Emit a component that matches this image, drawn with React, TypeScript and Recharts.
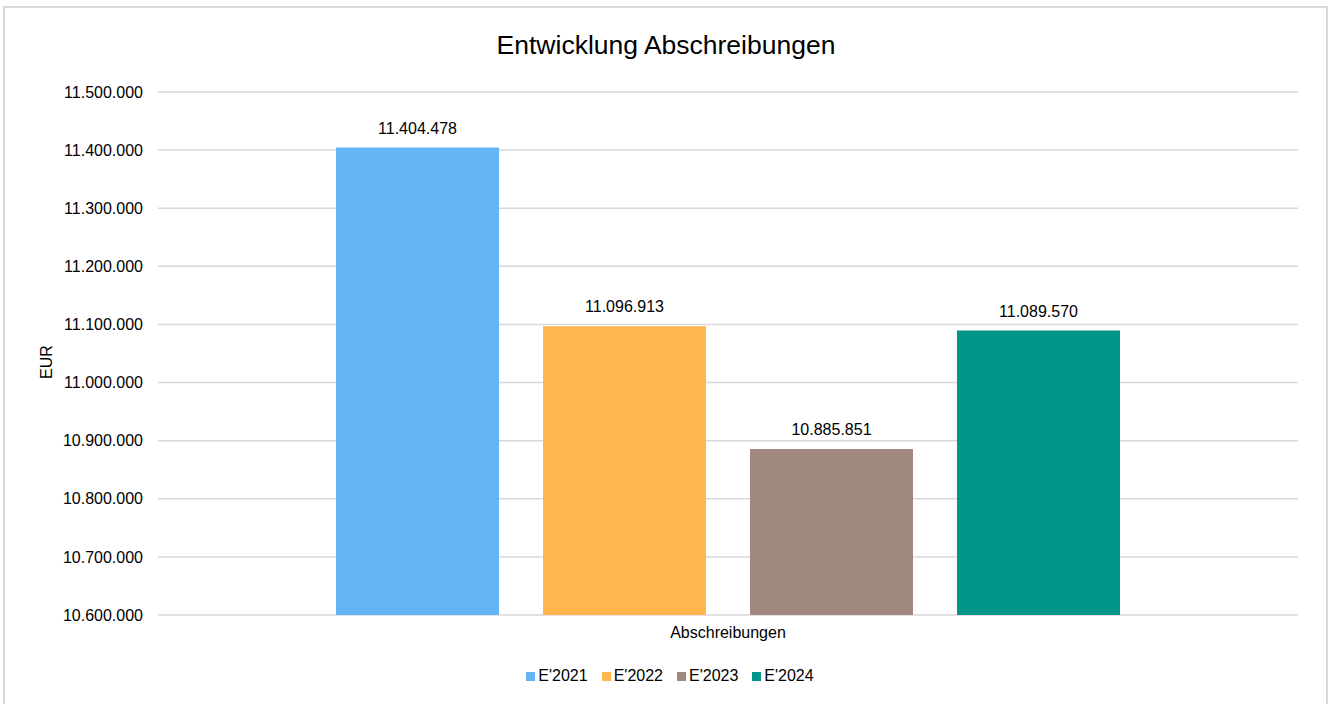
import React from "react";
import { Bar, BarChart, CartesianGrid, LabelList, XAxis, YAxis } from "recharts";

const categories = ["Abschreibungen"];
const seriesNames = ["E'2021", "E'2022", "E'2023", "E'2024"];
const seriesValues = [11404478, 11096913, 10885851, 11089570];
const seriesColors = ["#64b5f6", "#ffb74d", "#a1887f", "#009688"];
const yTicks = [
  10600000, 10700000, 10800000, 10900000, 11000000, 11100000, 11200000, 11300000, 11400000, 11500000,
];

const FONT = '"Liberation Sans", Arial, sans-serif';

const data = categories.map((name) => {
  const row: Record<string, string | number> = { name };
  seriesNames.forEach((s, i) => {
    row[s] = seriesValues[i];
  });
  return row;
});

const fmt = (v: number | string) =>
  String(Math.round(Number(v))).replace(/\B(?=(\d{3})+(?!\d))/g, ".");

export default function App() {
  return (
    <div
      style={{
        position: "fixed",
        left: 0,
        top: 0,
        width: 1332,
        height: 704,
        overflow: "hidden",
        background: "#fff",
        fontFamily: FONT,
      }}
    >
      <div
        style={{
          position: "absolute",
          left: 3,
          top: 6,
          width: 1325,
          height: 720,
          border: "2px solid #d9d9d9",
          boxSizing: "border-box",
        }}
      />
      <div
        style={{
          position: "absolute",
          left: 0,
          width: 1332,
          top: 30,
          textAlign: "center",
          fontSize: 26.5,
          lineHeight: "30px",
          color: "#000",
        }}
      >
        Entwicklung Abschreibungen
      </div>
      <div
        style={{
          position: "absolute",
          left: 47,
          top: 362,
          transform: "translate(-50%, -50%) rotate(-90deg)",
          fontSize: 16,
          color: "#000",
          whiteSpace: "nowrap",
        }}
      >
        EUR
      </div>
      <div style={{ position: "absolute", left: 0, top: 0 }}>
        <BarChart
          width={1332}
          height={704}
          data={data}
          margin={{ top: 92, right: 34, left: 0, bottom: 0 }}
          barGap={44}
          barSize={163}
        >
          <CartesianGrid vertical={false} stroke="#d9d9d9" strokeWidth={1.5} />
          <XAxis
            dataKey="name"
            height={89}
            axisLine={false}
            tickLine={false}
            tickSize={0}
            tickMargin={12}
            tick={{ fill: "#000", fontSize: 16, fontFamily: FONT }}
          />
          <YAxis
            width={158}
            domain={[10600000, 11500000]}
            ticks={yTicks}
            allowDataOverflow
            axisLine={false}
            tickLine={false}
            tickSize={0}
            tickMargin={15}
            tickFormatter={fmt}
            tick={{ fill: "#000", fontSize: 16, fontFamily: FONT }}
          />
          {seriesNames.map((s, i) => (
            <Bar key={s} dataKey={s} fill={seriesColors[i]} isAnimationActive={false}>
              <LabelList
                dataKey={s}
                position="top"
                offset={14}
                formatter={fmt}
                style={{ fill: "#000", fontSize: 16, fontFamily: FONT }}
              />
            </Bar>
          ))}
        </BarChart>
      </div>
      <div
        style={{
          position: "absolute",
          left: 4,
          width: 1332,
          top: 667,
          display: "flex",
          justifyContent: "center",
          fontSize: 16,
          lineHeight: "18px",
          color: "#000",
        }}
      >
        {seriesNames.map((s, i) => (
          <div key={s} style={{ display: "flex", alignItems: "center", marginRight: i < seriesNames.length - 1 ? 14 : 0 }}>
            <span style={{ width: 9, height: 9, background: seriesColors[i], marginRight: 3 }} />
            <span>{s}</span>
          </div>
        ))}
      </div>
    </div>
  );
}
